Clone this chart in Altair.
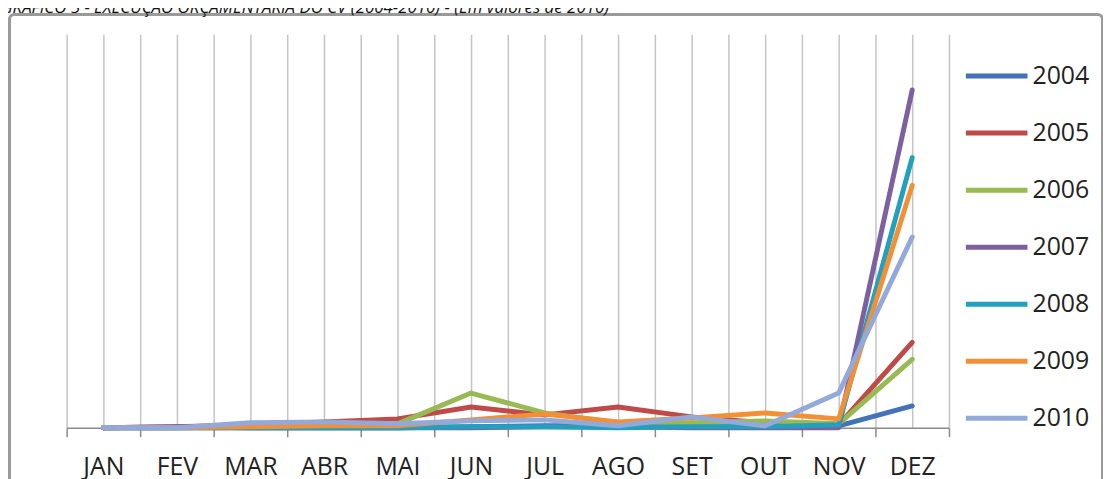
import json
import altair as alt
import pandas as pd

meses = ["JAN", "FEV", "MAR", "ABR", "MAI", "JUN", "JUL", "AGO", "SET", "OUT", "NOV", "DEZ"]
anos = ["2004", "2005", "2006", "2007", "2008", "2009", "2010"]

v2004 = [0, 0, 0, 0, 0, 1, 2, 2, 1, 1, 2, 22]
v2005 = [0, 1, 3, 6, 9, 21, 13, 21, 11, 5, 3, 86]
v2006 = [0, 0, 1, 2, 4, 35, 15, 5, 5, 7, 4, 69]
v2007 = [0, 1, 0, 0, 0, 0, 1, 1, 0, 0, 0, 340]
v2008 = [0, 0, 0, 0, 0, 1, 1, 0, 1, 1, 3, 272]
v2009 = [0, 0, 1, 2, 2, 8, 14, 6, 10, 15, 9, 244]
v2010 = [0, 0, 5, 6, 4, 7, 8, 2, 11, 2, 35, 192]

cores = ["#4272B8", "#BE4B48", "#98B954", "#7D60A0", "#22A0BE", "#F38F34", "#93A9D9"]
titulo = "GRÁFICO 5 - EXECUÇÃO ORÇAMENTÁRIA DO CV (2004-2010) - (Em valores de 2010)"

series = dict(zip(anos, [v2004, v2005, v2006, v2007, v2008, v2009, v2010]))
rows = []
for ano, vals in series.items():
    for i, (m, v) in enumerate(zip(meses, vals)):
        rows.append({"ano": ano, "mes": m, "idx": i, "valor": v})
df = pd.DataFrame(rows)

grid_vals = [k / 2 - 0.5 for k in range(2 * len(meses) + 1)]
label_expr = "datum.value % 1 === 0 ? " + json.dumps(meses) + "[datum.value] : ''"

x_axis = alt.Axis(
    values=grid_vals,
    labelExpr=label_expr,
    title=None,
    grid=True,
    gridColor="#c4c4c4",
    gridWidth=1.5,
    domainColor="#8a8a8a",
    domainWidth=1.5,
    tickColor="#8a8a8a",
    tickWidth=1.5,
    tickSize=9,
    tickOpacity={"condition": {"test": "datum.value % 1 !== 0", "value": 1}, "value": 0},
    labelPadding=18,
    labelFont="Open Sans",
    labelFontSize=25,
    labelColor="#222222",
    labelOverlap=False,
    labelFlush=False,
)

legend = alt.Legend(
    title=None,
    orient="none",
    legendX=918,
    legendY=24,
    padding=0,
    symbolType="M-2,0H2",
    symbolSize=961,
    symbolStrokeWidth=5,
    labelFont="Open Sans",
    labelFontSize=25,
    labelColor="#222222",
    labelOffset=18,
    rowPadding=26.4,
)

lines = alt.Chart(df).mark_line(strokeWidth=5, strokeJoin="round", strokeCap="round").encode(
    x=alt.X("idx:Q", scale=alt.Scale(domain=[-0.5, 11.5], nice=False, zero=False), axis=x_axis),
    y=alt.Y("valor:Q", scale=alt.Scale(domain=[0, 396], nice=False), axis=None),
    color=alt.Color("ano:N", scale=alt.Scale(domain=anos, range=cores), legend=legend),
    order=alt.Order("idx:Q"),
)

one = pd.DataFrame({"t": [titulo]})

frame = alt.Chart(one).mark_rect(filled=False, stroke="#9a9a9a", strokeWidth=3, cornerRadius=5).encode(
    x=alt.value(-57.5), x2=alt.value(1042.5), y=alt.value(-20), y2=alt.value(480)
)

title = alt.Chart(one).mark_text(
    align="left", baseline="alphabetic", font="Open Sans", fontSize=17,
    fontStyle="italic", color="#111111"
).encode(x=alt.value(-66), y=alt.value(-21), text="t:N")

chart = alt.layer(frame, lines, title).properties(
    width=888,
    height=396,
    autosize=alt.AutoSizeParams(type="none"),
    padding={"left": 59, "top": 25, "right": 155, "bottom": 50},
).configure_view(stroke="transparent")

chart.save("out.html", embed_options={"renderer": "svg", "actions": False})
